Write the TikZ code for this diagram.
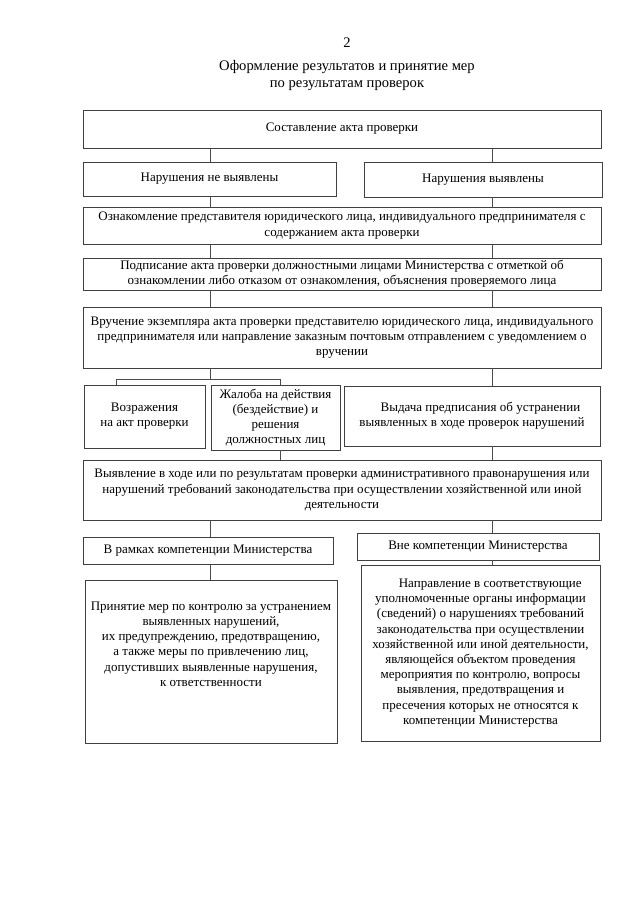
\documentclass[tikz,border=0pt]{standalone}
\usepackage{fontspec}
\setmainfont{Liberation Serif}
\usetikzlibrary{positioning}

\newcommand{\bodyfont}{\fontsize{13}{15.2}\selectfont}
\newcommand{\headfont}{\fontsize{14.6}{17}\selectfont}

\tikzset{
  box/.style={draw=black!75, line width=0.9pt, align=center, inner sep=2pt, font=\bodyfont},
  txt/.style={align=center, inner sep=2pt, font=\bodyfont},
  link/.style={draw=black!70, line width=0.8pt},
}

\begin{document}
\begin{tikzpicture}[x=1pt, y=-1pt]
    % page
    \fill[white] (0,0) rectangle (640,905);
    \useasboundingbox (0,0) rectangle (640,905);

    % heading
    \node[font=\headfont] (num) at (347,43) {2};
    \node[font=\headfont, align=center] (title) at (347,76) {Оформление результатов и принятие мер\\по результатам проверок};

    % columns for the connectors
    \coordinate (colL) at (210,0);
    \coordinate (colR) at (492,0);

    % first part: the act
    \node[box, minimum width=518, minimum height=38] (akt) at (342,129) {Составление акта проверки};
    \node[box, minimum width=253, minimum height=34] (net) at (209.5,179) {Нарушения не выявлены};
    \node[box, minimum width=238, minimum height=35] (est) at (483,179.5) {Нарушения выявлены};
    \node[box, minimum width=518, minimum height=37] (oznak) at (342,225.5)
        {Ознакомление представителя юридического лица, индивидуального предпринимателя с\\содержанием акта проверки};
    \node[box, minimum width=518, minimum height=32] (podp) at (342,274)
        {Подписание акта проверки должностными лицами Министерства с отметкой об\\ознакомлении либо отказом от ознакомления, объяснения проверяемого лица};
    \node[box, minimum width=518, minimum height=61] (vruch) at (342,337.5)
        {Вручение экземпляра акта проверки представителю юридического лица, индивидуального\\предпринимателя или направление заказным почтовым отправлением с уведомлением о\\вручении};

    % objections and orders
    \node[box, minimum width=121, minimum height=63] (vozr) at (144.5,416.5) {Возражения\\на акт проверки};
    \node[box, minimum width=129, minimum height=65] (zhal) at (275.5,417.5)
        {Жалоба на действия\\(бездействие) и\\решения\\должностных лиц};
    \node[box, minimum width=256, minimum height=60] (vyd) at (472,416)
        {\hspace*{1.3em}Выдача предписания об устранении\\выявленных в ходе проверок нарушений};

    % second part: measures
    \node[box, minimum width=518, minimum height=60] (vyyav) at (342,490)
        {Выявление в ходе или по результатам проверки административного правонарушения или\\нарушений требований законодательства при осуществлении хозяйственной или иной\\деятельности};
    \node[box, minimum width=250, minimum height=27] (vramk) at (208,550.5) {В рамках компетенции Министерства};
    \node[box, minimum width=242, minimum height=27] (vne) at (478,546.5) {Вне компетенции Министерства};

    \node[box, minimum width=252, minimum height=163] (prin) at (211,661.5) {};
    \node[txt, below=20pt of prin.north] (prinText)
        {Принятие мер по контролю за устранением\\выявленных нарушений,\\их предупреждению, предотвращению,\\а также меры по привлечению лиц,\\допустивших выявленные нарушения,\\к ответственности};
    \node[box, minimum width=239, minimum height=176] (napr) at (480.5,653)
        {\hspace*{1.5em}Направление в соответствующие\\уполномоченные органы информации\\(сведений) о нарушениях требований\\законодательства при осуществлении\\хозяйственной или иной деятельности,\\являющейся объектом проведения\\мероприятия по контролю, вопросы\\выявления, предотвращения и\\пресечения которых не относятся к\\компетенции Министерства};

    % connectors
    \draw[link] (akt.south -| colL) -- (net.north -| colL);
    \draw[link] (akt.south -| colR) -- (est.north -| colR);
    \draw[link] (net.south -| colL) -- (oznak.north -| colL);
    \draw[link] (est.south -| colR) -- (oznak.north -| colR);
    \draw[link] (oznak.south -| colL) -- (podp.north -| colL);
    \draw[link] (oznak.south -| colR) -- (podp.north -| colR);
    \draw[link] (podp.south -| colL) -- (vruch.north -| colL);
    \draw[link] (podp.south -| colR) -- (vruch.north -| colR);

    % fork under the handing over
    \coordinate (forkA) at (116,379);
    \coordinate (forkB) at (280,379);
    \draw[link] (vruch.south -| colL) -- (colL |- forkA);
    \draw[link] (vozr.north -| forkA) -- (forkA) -- (forkB) -- (zhal.north -| forkB);
    \draw[link] (vruch.south -| colR) -- (vyd.north -| colR);

    \draw[link] (zhal.south -| forkB) -- (vyyav.north -| forkB);
    \draw[link] (vyd.south -| colR) -- (vyyav.north -| colR);
    \draw[link] (vyyav.south -| colL) -- (vramk.north -| colL);
    \draw[link] (vyyav.south -| colR) -- (vne.north -| colR);
    \draw[link] (vramk.south -| colL) -- (prin.north -| colL);
    \draw[link] (vne.south -| colR) -- (napr.north -| colR);
\end{tikzpicture}
\end{document}
